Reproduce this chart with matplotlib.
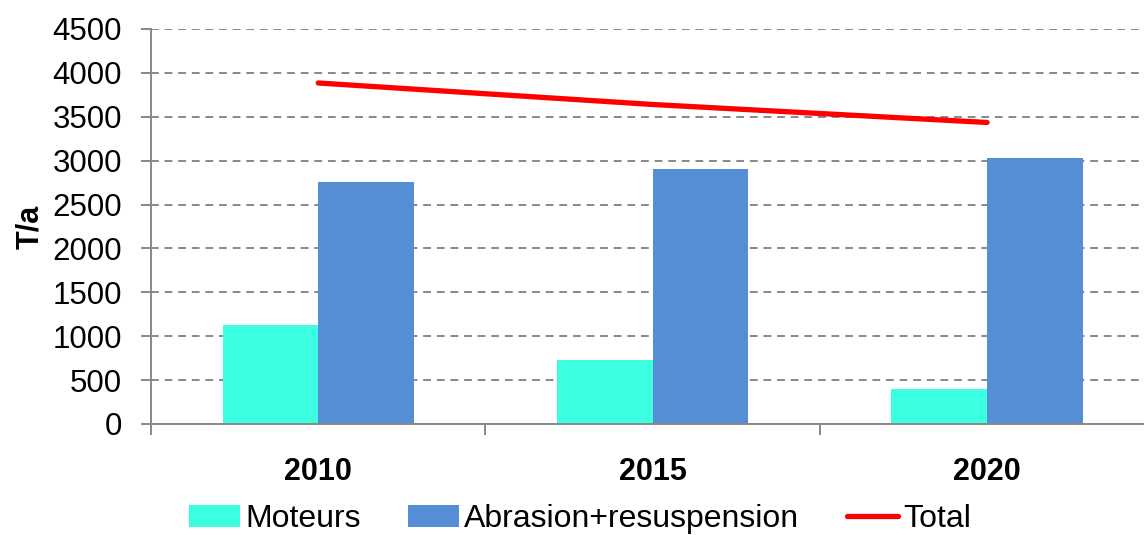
import numpy as np
import matplotlib
matplotlib.use("Agg")
import matplotlib.pyplot as plt

# -------------------------------
# Data
# -------------------------------
years = ["2010", "2015", "2020"]
moteurs = [1130, 730, 400]
abrasion = [2755, 2910, 3030]
total = [3885, 3640, 3435]

plt.rcParams["font.family"] = ["Liberation Sans", "DejaVu Sans"]

GRID = "#888888"

fig = plt.figure(figsize=(11.44, 5.35), dpi=100)
ax = fig.add_axes([0.132, 0.2075, 0.877, 0.7383])

x = np.arange(len(years))
w = 0.286
ax.bar(x - w / 2, moteurs, w, color="#3CFFE2", label="Moteurs", zorder=2)
ax.bar(x + w / 2, abrasion, w, color="#558ED5", label="Abrasion+resuspension", zorder=2)
ax.plot(x, total, color="#FF0000", lw=3.8, solid_capstyle="round", label="Total", zorder=3)

ax.set_xlim(-0.5, 2.5)
ax.set_ylim(0, 4500)
ax.set_yticks(np.arange(0, 4501, 500))
ax.yaxis.grid(True, color=GRID, linestyle=(0, (4, 3)), linewidth=1.4, zorder=0)

ax.set_xticks(x)
ax.set_xticklabels(years, fontsize=22, fontweight="bold")
ax.set_xticks([-0.5, 0.5, 1.5], minor=True)
ax.tick_params(axis="x", which="major", length=0, pad=24)
ax.tick_params(axis="x", which="minor", length=8, width=1.4, color=GRID, direction="out")
ax.tick_params(axis="y", labelsize=22.5, length=7, width=1.4, color=GRID, pad=14)

for s in ["top", "right"]:
    ax.spines[s].set_visible(False)
for s in ["left", "bottom"]:
    ax.spines[s].set_color(GRID)
    ax.spines[s].set_linewidth(1.4)

ax.set_ylabel("T/a", fontsize=22, fontweight="bold", labelpad=5)

h, l = ax.get_legend_handles_labels()
order = [1, 2, 0]
fig.legend([h[i] for i in order], [l[i] for i in order], loc="center",
           bbox_to_anchor=(0.507, 0.03), ncol=3, frameon=False, fontsize=23,
           handlelength=1.6, handletextpad=0.15, columnspacing=1.5)

fig.savefig("out.png", dpi=100)
